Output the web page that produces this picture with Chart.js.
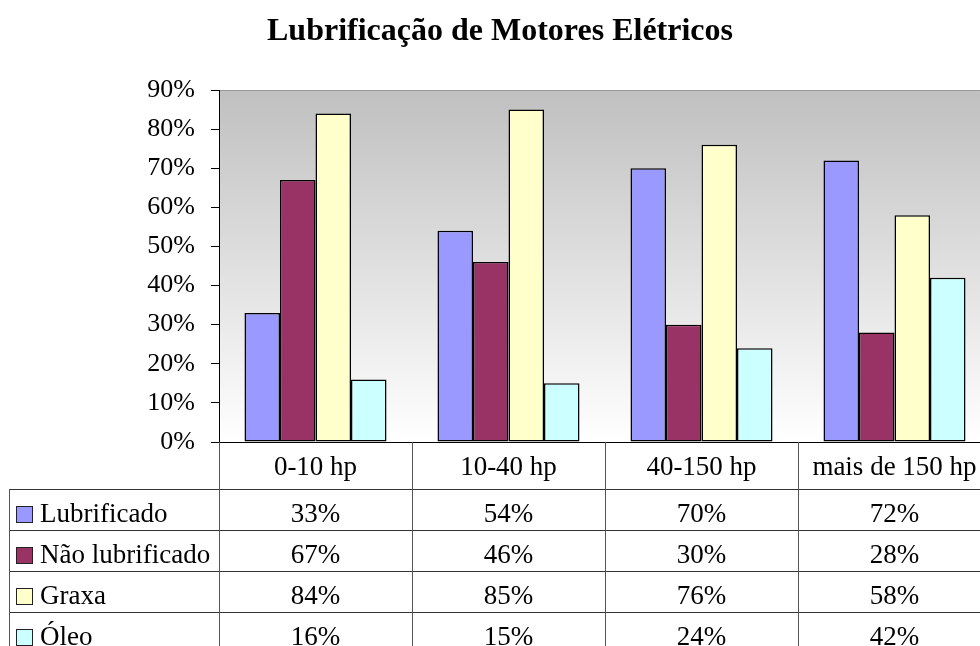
<!DOCTYPE html>
<html>
<head>
<meta charset="utf-8">
<script src="https://cdn.jsdelivr.net/npm/chart.js@4.4.1/dist/chart.umd.min.js"></script>
<style>
  html, body { margin: 0; padding: 0; background: #ffffff; overflow: hidden; }
  #wrap { width: 1000px; height: 646px; }
</style>
</head>
<body>
<div id="wrap"><canvas id="c" width="1000" height="646"></canvas></div>
<script>
const categories = ['0-10 hp', '10-40 hp', '40-150 hp', 'mais de 150 hp'];
const seriesNames = ['Lubrificado', 'Não lubrificado', 'Graxa', 'Óleo'];
const lubrificado = [33, 54, 70, 72];
const naoLubrificado = [67, 46, 30, 28];
const graxa = [84, 85, 76, 58];
const oleo = [16, 15, 24, 42];
const seriesColors = ['#9999FF', '#993366', '#FFFFCC', '#CCFFFF'];
const yTicks = [0, 10, 20, 30, 40, 50, 60, 70, 80, 90];

const SERIF = "'Liberation Serif', 'Times New Roman', serif";
const seriesValues = [lubrificado, naoLubrificado, graxa, oleo];

const bgPlugin = {
  id: 'plotBg',
  beforeDraw(chart) {
    const { ctx, chartArea: a } = chart;
    const g = ctx.createLinearGradient(0, a.top, 0, a.bottom);
    g.addColorStop(0, '#c0c0c0');
    g.addColorStop(1, '#ffffff');
    ctx.save();
    ctx.fillStyle = g;
    ctx.fillRect(a.left, a.top, a.right - a.left, a.bottom - a.top);
    ctx.strokeStyle = '#999999';
    ctx.lineWidth = 1;
    ctx.beginPath();
    ctx.moveTo(a.left, a.top + 0.5);
    ctx.lineTo(a.right, a.top + 0.5);
    ctx.stroke();
    ctx.restore();
  }
};

const tablePlugin = {
  id: 'dataTable',
  afterDraw(chart) {
    const { ctx, chartArea: a } = chart;
    const xs = chart.scales.x;
    const catW = (a.right - a.left) / categories.length;
    const headerTop = a.bottom;
    const headerH = 47;
    const rowH = 41;
    const tableLeft = 9;
    const rowsTop = headerTop + headerH;
    const bottom = rowsTop + rowH * seriesNames.length;
    ctx.save();
    ctx.lineWidth = 1;
    ctx.strokeStyle = '#000000';
    ctx.beginPath();
    ctx.moveTo(a.left, Math.round(headerTop) + 0.5);
    ctx.lineTo(a.right, Math.round(headerTop) + 0.5);
    ctx.stroke();
    ctx.strokeStyle = '#333333';
    for (let r = 0; r <= seriesNames.length; r++) {
      const y = Math.round(rowsTop + r * rowH) + 0.5;
      ctx.beginPath();
      ctx.moveTo(tableLeft, y);
      ctx.lineTo(a.right, y);
      ctx.stroke();
    }
    ctx.strokeStyle = '#555555';
    for (let i = 0; i <= categories.length; i++) {
      const x = Math.round(a.left + i * catW) + 0.5;
      ctx.beginPath();
      ctx.moveTo(x, headerTop);
      ctx.lineTo(x, bottom);
      ctx.stroke();
    }
    ctx.beginPath();
    ctx.moveTo(tableLeft + 0.5, rowsTop);
    ctx.lineTo(tableLeft + 0.5, bottom);
    ctx.stroke();
    ctx.fillStyle = '#000000';
    ctx.font = '27px ' + SERIF;
    ctx.textAlign = 'center';
    ctx.textBaseline = 'alphabetic';
    categories.forEach((c, i) => {
      ctx.fillText(c, xs.getPixelForValue(i), headerTop + 33);
    });
    seriesNames.forEach((name, r) => {
      const top = rowsTop + r * rowH;
      const base = top + 33;
      ctx.fillStyle = seriesColors[r];
      ctx.fillRect(16, base - 16, 16, 16);
      ctx.strokeStyle = '#222222';
      ctx.strokeRect(16.5, base - 15.5, 16, 16);
      ctx.fillStyle = '#000000';
      ctx.textAlign = 'left';
      ctx.fillText(name, 40, base);
      ctx.textAlign = 'center';
      seriesValues[r].forEach((v, i) => {
        ctx.fillText(v + '%', xs.getPixelForValue(i), base);
      });
    });
    ctx.restore();
  }
};

new Chart(document.getElementById('c'), {
  type: 'bar',
  data: {
    labels: categories,
    datasets: seriesNames.map((n, i) => ({
      label: n,
      data: seriesValues[i],
      backgroundColor: seriesColors[i],
      borderColor: '#000000',
      borderWidth: 1.5,
      borderSkipped: false,
      categoryPercentage: 0.736,
      barPercentage: 1.0
    }))
  },
  options: {
    responsive: false,
    animation: false,
    devicePixelRatio: 1,
    layout: { padding: { left: 9, right: 9, top: 0, bottom: 204 } },
    plugins: {
      legend: { display: false },
      tooltip: { enabled: false },
      title: {
        display: true,
        text: 'Lubrificação de Motores Elétricos',
        color: '#000000',
        font: { family: SERIF, size: 32, weight: 'bold', lineHeight: 1.2 },
        padding: { top: 13, bottom: 38.6 }
      }
    },
    scales: {
      x: {
        display: false,
        grid: { display: false }
      },
      y: {
        min: 0,
        max: 90,
        afterFit(scale) { scale.width = 210; },
        afterBuildTicks(scale) { scale.ticks = yTicks.map(v => ({ value: v })); },
        ticks: {
          color: '#000000',
          padding: 16,
          font: { family: SERIF, size: 26 },
          callback: v => v + '%'
        },
        grid: {
          display: true,
          drawOnChartArea: false,
          drawTicks: true,
          tickLength: 8,
          color: '#000000'
        },
        border: { display: true, color: '#000000' }
      }
    }
  },
  plugins: [bgPlugin, tablePlugin]
});
</script>
</body>
</html>
